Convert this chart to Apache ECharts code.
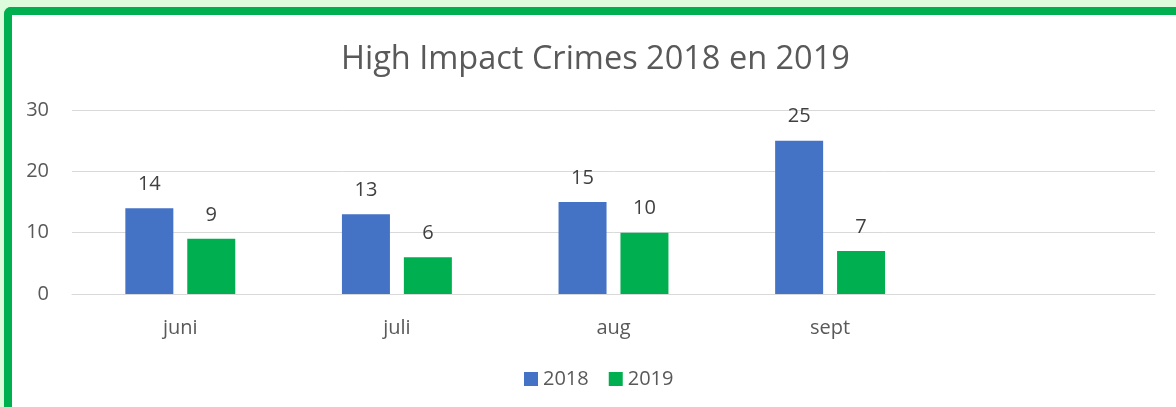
<!DOCTYPE html>
<html>
<head>
<meta charset="utf-8">
<script src="https://cdn.jsdelivr.net/npm/echarts@6/dist/echarts.min.js"></script>
<style>
  html, body { margin: 0; padding: 0; width: 1176px; height: 407px; overflow: hidden; background: #dcfcdc; }
  #frame { position: absolute; left: 4px; top: 7px; width: 1200px; height: 440px; background: #fff;
           border-top: 8px solid #00b050; border-left: 8px solid #00b050; border-top-left-radius: 7px; }
  #chart { position: absolute; left: 0; top: 0; width: 1176px; height: 407px; }
</style>
</head>
<body>
<div id="frame"></div>
<div id="chart"></div>
<script>
// maanden (laatste vak is leeg in het origineel)
var months = ['juni', 'juli', 'aug', 'sept', '']
var crimes2018 = [14, 13, 15, 25, null]
var crimes2019 = [9, 6, 10, 7, null]
var yTicks = { min: 0, max: 30, interval: 10 }

var textColor = '#595959'
var fontName = '"Open Sans", sans-serif'

var chart = echarts.init(document.getElementById('chart'))
chart.setOption({
  animation: false,
  title: {
    text: 'High Impact Crimes 2018 en 2019',
    left: 336,
    top: 38,
    textStyle: { fontFamily: fontName, fontSize: 32.5, fontWeight: 'normal', color: textColor }
  },
  legend: {
    bottom: 13,
    left: 519,
    icon: 'rect',
    itemWidth: 14,
    itemHeight: 14,
    itemGap: 20,
    textStyle: { fontFamily: fontName, fontSize: 20, color: textColor }
  },
  grid: { left: 72, right: 21, top: 110, bottom: 113 },
  xAxis: {
    type: 'category',
    data: months,
    axisTick: { show: false },
    axisLine: { lineStyle: { color: '#d9d9d9' } },
    axisLabel: { fontFamily: fontName, fontSize: 20, color: textColor, margin: 24 }
  },
  yAxis: {
    type: 'value',
    min: yTicks.min,
    max: yTicks.max,
    interval: yTicks.interval,
    axisLine: { show: false },
    axisTick: { show: false },
    splitLine: { lineStyle: { color: '#d9d9d9' } },
    axisLabel: { fontFamily: fontName, fontSize: 20, color: textColor, margin: 23 }
  },
  series: [
    {
      name: '2018',
      type: 'bar',
      barWidth: 48,
      barGap: '29%',
      itemStyle: { color: '#4472c4' },
      label: { show: true, position: 'top', distance: 14, fontFamily: fontName, fontSize: 20, color: '#404040' },
      data: crimes2018
    },
    {
      name: '2019',
      type: 'bar',
      barWidth: 48,
      barGap: '29%',
      itemStyle: { color: '#00b050' },
      label: { show: true, position: 'top', distance: 14, fontFamily: fontName, fontSize: 20, color: '#404040' },
      data: crimes2019
    }
  ]
})
</script>
</body>
</html>
